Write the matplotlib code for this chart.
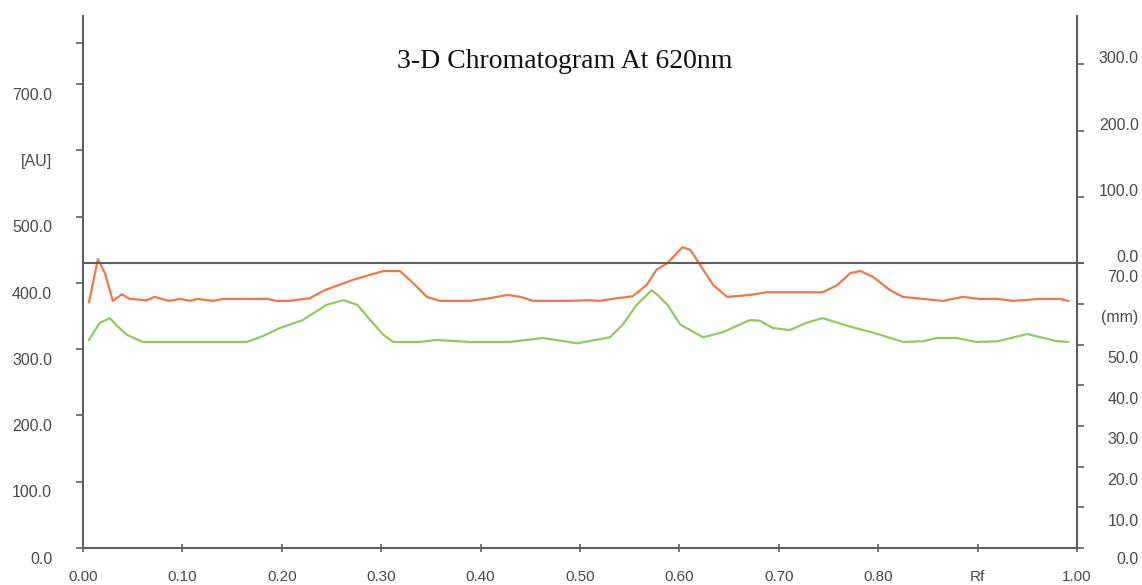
import matplotlib
matplotlib.use("Agg")
import matplotlib.pyplot as plt
import matplotlib.transforms as mtransforms

# chromatogram traces (Rf, left-axis AU)
orange_rf = [0.006, 0.015, 0.022, 0.030, 0.039, 0.047, 0.064, 0.072, 0.086, 0.098,
             0.108, 0.115, 0.131, 0.141, 0.185, 0.195, 0.208, 0.228, 0.243, 0.272,
             0.302, 0.319, 0.332, 0.346, 0.359, 0.389, 0.409, 0.427, 0.440, 0.453,
             0.490, 0.507, 0.520, 0.537, 0.553, 0.567, 0.577, 0.588, 0.603, 0.611,
             0.621, 0.634, 0.648, 0.671, 0.688, 0.744, 0.759, 0.772, 0.782, 0.795,
             0.812, 0.825, 0.845, 0.865, 0.885, 0.902, 0.920, 0.936, 0.963, 0.983,
             0.991]
orange_au = [371, 436, 415, 373, 383, 376, 374, 379, 373, 376,
             373, 376, 373, 376, 376, 373, 373, 377, 389, 405,
             418, 418, 400, 379, 373, 373, 377, 382, 379, 373,
             373, 374, 373, 377, 380, 397, 420, 430, 454, 450,
             427, 397, 379, 382, 386, 386, 397, 415, 418, 409,
             389, 379, 376, 373, 379, 376, 376, 373, 376, 376,
             373]

green_rf = [0.006, 0.017, 0.027, 0.035, 0.044, 0.060, 0.098, 0.165, 0.181, 0.198,
            0.221, 0.245, 0.262, 0.276, 0.289, 0.302, 0.312, 0.339, 0.356, 0.389,
            0.430, 0.463, 0.497, 0.530, 0.543, 0.557, 0.572, 0.578, 0.588, 0.601,
            0.624, 0.644, 0.671, 0.681, 0.694, 0.711, 0.728, 0.744, 0.772, 0.795,
            0.825, 0.845, 0.859, 0.879, 0.899, 0.920, 0.950, 0.980, 0.991]
green_au = [314, 340, 347, 334, 322, 311, 311, 311, 320, 332,
            344, 367, 374, 367, 344, 322, 311, 311, 314, 311,
            311, 317, 309, 318, 337, 367, 389, 382, 367, 337,
            318, 326, 344, 343, 332, 329, 340, 347, 334, 325,
            311, 312, 317, 317, 311, 312, 323, 312, 311]

x_ticks = [0.0, 0.1, 0.2, 0.3, 0.4, 0.5, 0.6, 0.7, 0.8, 0.9, 1.0]
x_labels = ["0.00", "0.10", "0.20", "0.30", "0.40", "0.50", "0.60", "0.70", "0.80", "Rf", "1.00"]
left_ticks = [0, 100, 200, 300, 400, 500, 600, 700, 762]
left_labels = ["0.0", "100.0", "200.0", "300.0", "400.0", "500.0", "[AU]", "700.0", ""]
upper_right = [0, 100, 200, 300]          # second scale, zero on the baseline
upper_labels = ["0.0", "100.0", "200.0", "300.0"]
mm_ticks = [0, 10, 20, 30, 40, 50, 60, 70]
mm_labels = ["0.0", "10.0", "20.0", "30.0", "40.0", "50.0", "(mm)", "70.0"]
baseline = 430   # AU level of the horizontal line
mm_scale = baseline / 70.0

gray = "#5f5f5f"
txt = "#4a4a4a"

fig = plt.figure(figsize=(11.42, 5.85), dpi=100)
ax = fig.add_axes([83 / 1142, 1 - 548 / 585, 994 / 1142, 532 / 585])
ax.set_xlim(0, 1)
ax.set_ylim(0, 803)

ax.plot(orange_rf, orange_au, color="#f07845", lw=1.6)
ax.plot(green_rf, green_au, color="#95c85e", lw=1.6)
ax.axhline(baseline, color=gray, lw=1.5)

ax.spines["top"].set_visible(False)
for s in ["left", "bottom", "right"]:
    ax.spines[s].set_color(gray)
    ax.spines[s].set_linewidth(1.5)

ax.set_xticks(x_ticks)
ax.set_xticklabels(x_labels, fontsize=11, color=txt, family="Liberation Sans")
ax.tick_params(axis="x", direction="inout", length=6, width=1.2, color=gray, pad=13)

ax.set_yticks(left_ticks)
ax.set_yticklabels([])
ax.tick_params(axis="y", direction="out", length=5, width=1.2, color=gray)

# left labels sit a little below their ticks
down = mtransforms.ScaledTranslation(0, -8 / 72, fig.dpi_scale_trans)
lt = mtransforms.blended_transform_factory(ax.transAxes, ax.transData)
for v, lab in zip(left_ticks, left_labels):
    ax.text(-0.031, v, lab, transform=lt + down, ha="right", va="center",
            fontsize=11.5, color=txt, family="Liberation Sans")

# right side: two stacked scales on the same spine
ax2 = ax.twinx()
ax2.set_ylim(ax.get_ylim())
for s in ["top", "left", "bottom"]:
    ax2.spines[s].set_visible(False)
ax2.spines["right"].set_color(gray)
ax2.spines["right"].set_linewidth(1.5)
r_pos = [baseline + v for v in upper_right] + [m * mm_scale for m in mm_ticks]
ax2.set_yticks(r_pos)
ax2.set_yticklabels([])
ax2.tick_params(axis="y", direction="out", length=5, width=1.2, color=gray)

rt = mtransforms.blended_transform_factory(ax.transAxes, ax.transData)
up = mtransforms.ScaledTranslation(0, 4 / 72, fig.dpi_scale_trans)
low = mtransforms.ScaledTranslation(0, -10 / 72, fig.dpi_scale_trans)
for v, lab in zip(upper_right, upper_labels):
    ax.text(1.062, baseline + v, lab, transform=rt + up, ha="right", va="center",
            fontsize=11.5, color=txt, family="Liberation Sans")
for m, lab in zip(mm_ticks, mm_labels):
    off = down if m == 0 else low
    ax.text(1.062, m * mm_scale, lab, transform=rt + off, ha="right", va="center",
            fontsize=11.5, color=txt, family="Liberation Sans", clip_on=False)

ax.text(0.485, 0.915, "3-D Chromatogram At 620nm", transform=ax.transAxes,
        ha="center", va="center", fontsize=20, family="Liberation Serif", color="#111111")

fig.savefig("out.png", dpi=100)
